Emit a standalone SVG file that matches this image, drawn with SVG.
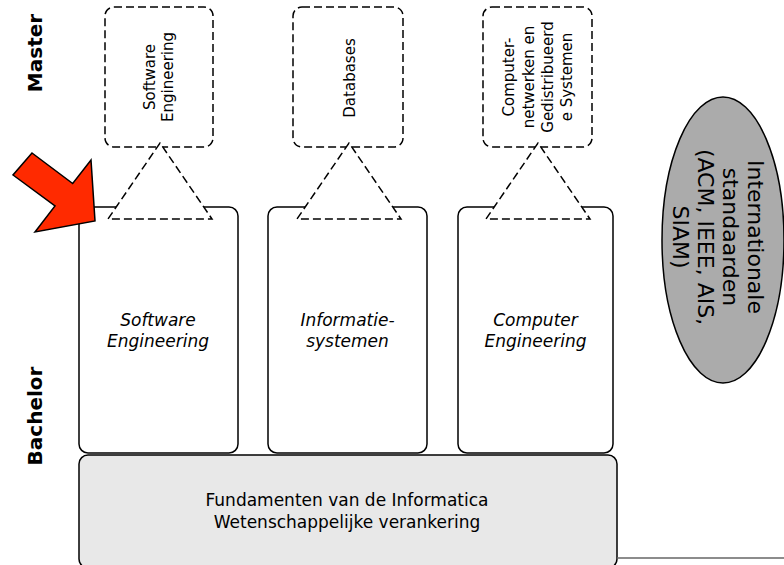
<svg xmlns="http://www.w3.org/2000/svg" width="784" height="565" viewBox="0 0 784 565">
<style>
text{font-family:"DejaVu Sans","Liberation Sans",sans-serif;fill:#000}
.lbl{font-size:20px;font-weight:bold}
.mtxt{font-size:15px}
.btxt{font-size:17px;font-style:italic}
.ftxt{font-size:17px}
.etxt{font-size:22px}
.master{fill:#fff;stroke:#000;stroke-width:1.5;stroke-dasharray:8 4}
.bach{fill:#fff;stroke:#000;stroke-width:1.5}
.tri{fill:#fff;stroke:#000;stroke-width:1.5;stroke-dasharray:8 4}
</style>
<rect width="784" height="565" fill="#fff"/>
<g id="label-master"><text class="lbl" transform="translate(42,53) rotate(-90)" text-anchor="middle">Master</text></g>
<g id="label-bachelor"><text class="lbl" transform="translate(42,416) rotate(-90)" text-anchor="middle">Bachelor</text></g>

<g id="master-se">
<rect class="master" x="105" y="7" width="108" height="140" rx="9"/>
<text class="mtxt" transform="translate(155,77) rotate(-90)" text-anchor="middle">Software</text>
<text class="mtxt" transform="translate(173,77) rotate(-90)" text-anchor="middle">Engineering</text>
</g>
<g id="master-db">
<rect class="master" x="293" y="7" width="110" height="140" rx="9"/>
<text class="mtxt" transform="translate(355,78) rotate(-90)" text-anchor="middle">Databases</text>
</g>
<g id="master-cn">
<rect class="master" x="483" y="7" width="109" height="140" rx="9"/>
<text class="mtxt" transform="translate(514,77) rotate(-90)" text-anchor="middle">Computer-</text>
<text class="mtxt" transform="translate(533.5,77) rotate(-90)" text-anchor="middle">netwerken en</text>
<text class="mtxt" transform="translate(553,77) rotate(-90)" text-anchor="middle">Gedistribueerd</text>
<text class="mtxt" transform="translate(572,77) rotate(-90)" text-anchor="middle">e Systemen</text>
</g>

<g id="bachelor-se">
<rect class="bach" x="79" y="207" width="159" height="246" rx="9"/>
<text class="btxt" x="158" y="326" text-anchor="middle">Software</text>
<text class="btxt" x="158" y="347" text-anchor="middle">Engineering</text>
</g>
<g id="bachelor-is">
<rect class="bach" x="268" y="207" width="159" height="246" rx="9"/>
<text class="btxt" x="347.5" y="326" text-anchor="middle">Informatie-</text>
<text class="btxt" x="347.5" y="347" text-anchor="middle">systemen</text>
</g>
<g id="bachelor-ce">
<rect class="bach" x="458" y="207" width="155" height="246" rx="9"/>
<text class="btxt" x="535.5" y="326" text-anchor="middle">Computer</text>
<text class="btxt" x="535.5" y="347" text-anchor="middle">Engineering</text>
</g>

<g id="fundamenten">
<rect x="79" y="455" width="538" height="113" rx="9" fill="#e8e8e8" stroke="#000" stroke-width="1.5"/>
<text class="ftxt" x="347" y="506" text-anchor="middle">Fundamenten van de Informatica</text>
<text class="ftxt" x="347" y="528" text-anchor="middle">Wetenschappelijke verankering</text>
</g>

<g id="standaarden">
<ellipse cx="723" cy="240" rx="61" ry="143" fill="#ababab" stroke="#000" stroke-width="1.5"/>
<text class="etxt" transform="translate(748,237) rotate(90)" text-anchor="middle">Internationale</text>
<text class="etxt" transform="translate(723,237) rotate(90)" text-anchor="middle">standaarden</text>
<text class="etxt" transform="translate(698,237) rotate(90)" text-anchor="middle">(ACM, IEEE, AIS,</text>
<text class="etxt" transform="translate(673,237) rotate(90)" text-anchor="middle">SIAM)</text>
</g>

<g id="connectors">
<polygon class="tri" points="160,143 108,219 212,219"/>
<polygon class="tri" points="349,143 297,219 401,219"/>
<polygon class="tri" points="538,143 486,219 590,219"/>
<line x1="617" y1="558" x2="784" y2="558" stroke="#666" stroke-width="1.5"/>
</g>

<g id="arrow">
<polygon points="32,153 72.7,183.5 91,160 95,221 35,232 55,206 13,175" fill="#ff2a00" stroke="#000" stroke-width="1.5" stroke-linejoin="miter"/>
</g>
</svg>
